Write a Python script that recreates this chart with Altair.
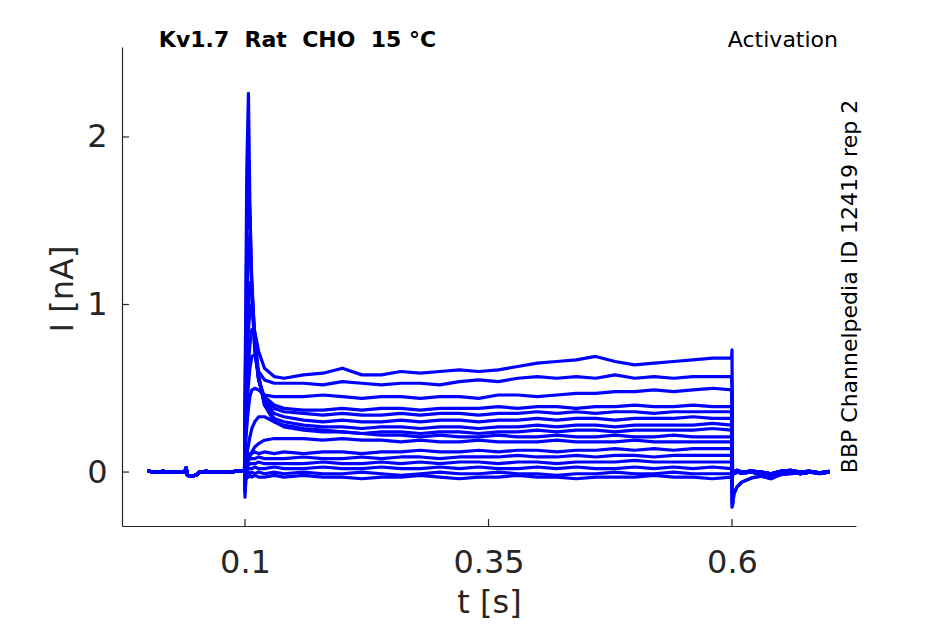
import altair as alt
import pandas as pd

# ---- data (time in s, current in nA) ----
pre_t = [0.0, 0.008, 0.016, 0.024, 0.032, 0.038, 0.0395, 0.041, 0.046, 0.051, 0.053,
         0.06, 0.068, 0.076, 0.084, 0.092, 0.0995]
pre_i = [0.006, 0.0, 0.004, -0.002, 0.003, 0.0, 0.025, -0.02, -0.025, -0.015, 0.0,
         0.004, -0.002, 0.003, 0.0, 0.005, 0.004]

early_t = [0.1, 0.1008, 0.1018, 0.1035, 0.105, 0.107, 0.11, 0.114, 0.12, 0.13]
late_t = [0.14, 0.16, 0.18, 0.2, 0.22, 0.24, 0.26, 0.28, 0.3, 0.32, 0.34, 0.36,
          0.38, 0.4, 0.42, 0.44, 0.46, 0.48, 0.5, 0.52, 0.54, 0.56, 0.58, 0.5995]

early_i = [
    [0.3, 0.4, 0.5, 0.65, 0.76, 0.85, 0.84, 0.72, 0.62, 0.57],
    [0.2, 0.3, 0.4, 0.52, 0.62, 0.69, 0.7, 0.6, 0.55, 0.53],
    [0.1, 0.18, 0.27, 0.38, 0.45, 0.49, 0.5, 0.49, 0.46, 0.45],
    [0.5, 1.0, 1.8, 2.26, 1.6, 1.05, 0.72, 0.55, 0.45, 0.4],
    [0.4, 0.8, 1.4, 1.72, 1.55, 1.1, 0.75, 0.55, 0.43, 0.38],
    [0.3, 0.6, 1.0, 1.3, 1.42, 1.15, 0.78, 0.55, 0.42, 0.35],
    [0.2, 0.45, 0.75, 1.0, 1.13, 1.1, 0.8, 0.56, 0.4, 0.32],
    [0.15, 0.35, 0.6, 0.85, 0.96, 1.0, 0.82, 0.58, 0.4, 0.3],
    [0.0, 0.05, 0.1, 0.16, 0.21, 0.26, 0.3, 0.33, 0.33, 0.3],
    [0.0, 0.02, 0.04, 0.07, 0.09, 0.12, 0.15, 0.17, 0.19, 0.2],
    [0.02, 0.06, 0.09, 0.1, 0.11, 0.11, 0.12, 0.11, 0.12, 0.11],
    [0.0, 0.03, 0.06, 0.07, 0.08, 0.08, 0.08, 0.09, 0.08, 0.08],
    [-0.05, 0.0, 0.03, 0.04, 0.05, 0.05, 0.05, 0.06, 0.05, 0.05],
    [-0.1, -0.02, 0.01, 0.02, 0.02, 0.02, 0.03, 0.02, 0.02, 0.03],
    [-0.15, -0.04, -0.01, 0.0, -0.01, 0.0, -0.01, 0.0, -0.01, 0.0],
    [-0.12, -0.05, -0.03, -0.03, -0.02, -0.03, -0.02, -0.03, -0.03, -0.02],
]

late_i = [
    [0.56, 0.58, 0.59, 0.62, 0.58, 0.58, 0.6, 0.59, 0.6, 0.61, 0.6, 0.61, 0.63, 0.65, 0.66, 0.67, 0.69, 0.66, 0.64, 0.65, 0.66, 0.67, 0.68, 0.68],
    [0.53, 0.53, 0.52, 0.54, 0.53, 0.52, 0.53, 0.53, 0.52, 0.54, 0.55, 0.54, 0.56, 0.57, 0.56, 0.57, 0.56, 0.58, 0.56, 0.57, 0.56, 0.57, 0.57, 0.57],
    [0.45, 0.45, 0.46, 0.45, 0.44, 0.45, 0.45, 0.44, 0.45, 0.45, 0.44, 0.46, 0.46, 0.45, 0.46, 0.47, 0.47, 0.48, 0.48, 0.49, 0.48, 0.49, 0.5, 0.49],
    [0.38, 0.37, 0.37, 0.38, 0.37, 0.38, 0.38, 0.37, 0.38, 0.38, 0.38, 0.39, 0.38, 0.39, 0.39, 0.38, 0.39, 0.39, 0.4, 0.39, 0.39, 0.4, 0.39, 0.39],
    [0.36, 0.35, 0.34, 0.35, 0.34, 0.34, 0.35, 0.34, 0.35, 0.35, 0.34, 0.35, 0.35, 0.36, 0.35, 0.36, 0.35, 0.36, 0.36, 0.35, 0.36, 0.36, 0.36, 0.36],
    [0.33, 0.31, 0.3, 0.31, 0.3, 0.3, 0.31, 0.3, 0.31, 0.31, 0.3, 0.31, 0.31, 0.32, 0.31, 0.32, 0.32, 0.31, 0.32, 0.32, 0.32, 0.33, 0.32, 0.32],
    [0.3, 0.28, 0.27, 0.27, 0.26, 0.27, 0.27, 0.26, 0.27, 0.27, 0.26, 0.27, 0.27, 0.28, 0.27, 0.28, 0.28, 0.27, 0.28, 0.28, 0.28, 0.28, 0.29, 0.28],
    [0.27, 0.25, 0.24, 0.24, 0.23, 0.24, 0.24, 0.23, 0.24, 0.24, 0.23, 0.24, 0.24, 0.25, 0.24, 0.25, 0.25, 0.24, 0.25, 0.25, 0.25, 0.25, 0.26, 0.25],
    [0.28, 0.26, 0.25, 0.24, 0.23, 0.22, 0.22, 0.21, 0.22, 0.21, 0.21, 0.22, 0.21, 0.21, 0.22, 0.21, 0.21, 0.22, 0.21, 0.21, 0.22, 0.21, 0.21, 0.21],
    [0.2, 0.2, 0.19, 0.2, 0.19, 0.19, 0.18, 0.19, 0.18, 0.18, 0.19, 0.18, 0.18, 0.18, 0.19, 0.18, 0.18, 0.18, 0.19, 0.18, 0.18, 0.18, 0.18, 0.18],
    [0.12, 0.11, 0.12, 0.12, 0.11, 0.12, 0.12, 0.13, 0.12, 0.12, 0.13, 0.12, 0.13, 0.13, 0.12, 0.13, 0.13, 0.14, 0.13, 0.14, 0.13, 0.14, 0.14, 0.14],
    [0.08, 0.09, 0.08, 0.08, 0.09, 0.08, 0.09, 0.09, 0.08, 0.09, 0.09, 0.09, 0.1, 0.09, 0.09, 0.1, 0.09, 0.1, 0.1, 0.09, 0.1, 0.1, 0.1, 0.1],
    [0.05, 0.05, 0.06, 0.05, 0.05, 0.06, 0.05, 0.06, 0.05, 0.06, 0.06, 0.05, 0.06, 0.06, 0.05, 0.06, 0.06, 0.06, 0.07, 0.06, 0.06, 0.06, 0.06, 0.06],
    [0.02, 0.02, 0.03, 0.02, 0.02, 0.03, 0.02, 0.02, 0.03, 0.02, 0.03, 0.02, 0.02, 0.03, 0.02, 0.03, 0.02, 0.02, 0.03, 0.02, 0.03, 0.02, 0.03, 0.02],
    [-0.01, 0.0, -0.01, -0.01, 0.0, -0.01, -0.02, -0.01, 0.0, -0.01, -0.01, 0.0, -0.01, -0.01, -0.02, -0.01, -0.01, 0.0, -0.01, -0.01, 0.0, -0.01, -0.01, -0.01],
    [-0.03, -0.02, -0.03, -0.03, -0.04, -0.03, -0.03, -0.02, -0.03, -0.04, -0.03, -0.03, -0.02, -0.03, -0.03, -0.04, -0.03, -0.03, -0.03, -0.02, -0.03, -0.03, -0.04, -0.03],
]

off_t = 0.6
off_i = [0.73, 0.5, 0.4, -0.21, -0.17, -0.12, -0.08, -0.05, 0.1, 0.05, 0.0, 0.0, -0.02, 0.0, -0.03, -0.02]

tail_t = [0.6005, 0.602, 0.605, 0.61, 0.62, 0.63, 0.64, 0.65, 0.66, 0.67, 0.68, 0.69, 0.7]
tail_shapes = {
    "a": [0.0, -0.01, 0.0, -0.005, 0.0, -0.01, -0.02, -0.005, 0.0, -0.01, 0.0, -0.005, 0.0],
    "b": [-0.2, -0.13, -0.09, -0.06, -0.035, -0.025, -0.04, -0.015, -0.01, -0.005, 0.0, -0.01, 0.0],
    "c": [0.01, 0.0, 0.01, 0.0, 0.005, 0.0, -0.01, 0.005, 0.01, 0.0, 0.005, -0.005, 0.005],
}
tail_kind = ["a", "c", "a", "b", "b", "a", "c", "a", "c", "a", "c", "a", "c", "a", "c", "a"]

x_ticks = [0.1, 0.35, 0.6]
y_ticks = [0, 1, 2]

# ---- build the long table ----
rows = []
for k in range(len(early_i)):
    ts = pre_t + early_t + late_t + [off_t] + tail_t
    vs = pre_i + early_i[k] + late_i[k] + [off_i[k]] + tail_shapes[tail_kind[k]]
    for j, (t, v) in enumerate(zip(ts, vs)):
        rows.append({"trace": k, "idx": j, "t": t, "i": v})
df = pd.DataFrame(rows)

W, H = 734, 479
INK = "#262626"
FONT = "DejaVu Sans"

xscale = alt.Scale(domain=[-0.0263, 0.7273], nice=False, zero=False)
yscale = alt.Scale(domain=[-0.322, 2.537], nice=False, zero=False)

lines = alt.Chart(df).mark_line(color="#0000FF", strokeWidth=3.2, strokeJoin="round").encode(
    x=alt.X("t:Q", scale=xscale,
            axis=alt.Axis(values=x_ticks, format="~g", ticks=False, grid=False,
                          labelFontSize=32, labelPadding=21, labelColor=INK, labelFont=FONT,
                          domainColor=INK, domainWidth=1.2,
                          title="t [s]", titleFontSize=32, titleFontWeight="normal",
                          titleColor=INK, titleFont=FONT, titleY=86, titleBaseline="alphabetic")),
    y=alt.Y("i:Q", scale=yscale,
            axis=alt.Axis(values=y_ticks, format="d", ticks=False, grid=False,
                          labelFontSize=32, labelPadding=15, labelColor=INK, labelFont=FONT,
                          domainColor=INK, domainWidth=1.2,
                          title="I [nA]", titleFontSize=32, titleFontWeight="normal",
                          titleColor=INK, titleFont=FONT, titleX=-50, titleY=241.5,
                          titleAngle=270, titleAlign="center", titleBaseline="alphabetic")),
    detail="trace:N",
    order="idx:Q",
)

xt = alt.Chart(pd.DataFrame({"t": x_ticks})).mark_rule(color=INK, strokeWidth=1.2).encode(
    x=alt.X("t:Q", scale=xscale), y=alt.value(H), y2=alt.value(H - 7))
yt = alt.Chart(pd.DataFrame({"i": y_ticks})).mark_rule(color=INK, strokeWidth=1.2).encode(
    y=alt.Y("i:Q", scale=yscale), x=alt.value(0), x2=alt.value(7))

title_txt = alt.Chart(pd.DataFrame({"s": ["Kv1.7\u00a0\u00a0Rat\u00a0\u00a0CHO\u00a0\u00a015\u00a0°C"]})).mark_text(
    font=FONT, fontSize=22, fontWeight="bold", color="black", align="center", baseline="alphabetic"
).encode(text="s:N", x=alt.value(175.5), y=alt.value(-0.5))

act_txt = alt.Chart(pd.DataFrame({"s": ["Activation"]})).mark_text(
    font=FONT, fontSize=22, color="black", align="right", baseline="alphabetic"
).encode(text="s:N", x=alt.value(716), y=alt.value(-0.5))

side_txt = alt.Chart(pd.DataFrame({"s": ["BBP Channelpedia ID 12419 rep 2"]})).mark_text(
    font=FONT, fontSize=22, color="black", align="center", baseline="alphabetic", angle=270
).encode(text="s:N", x=alt.value(735), y=alt.value(239.5))

chart = alt.layer(lines, xt, yt, title_txt, act_txt, side_txt).properties(
    width=W, height=H,
    padding={"left": 114, "top": 39, "right": 60, "bottom": 96},
    autosize=alt.AutoSizeParams(type="none"),
).configure_view(stroke=None)

chart.save("out.html", embed_options={"renderer": "svg", "actions": False})
